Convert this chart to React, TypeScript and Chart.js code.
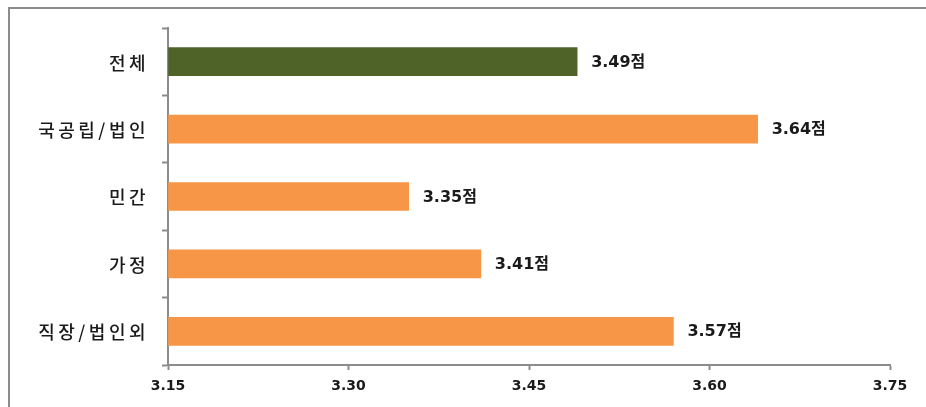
import React, { useEffect, useRef } from 'react';
import { Chart, registerables, ChartConfiguration, Plugin } from 'chart.js';

Chart.register(...registerables);

const categories = ['전체', '국공립/법인', '민간', '가정', '직장/법인외'];
const scores = [3.49, 3.64, 3.35, 3.41, 3.57];
const barColors = ['#4F6228', '#F79646', '#F79646', '#F79646', '#F79646'];
const xTicks = [3.15, 3.3, 3.45, 3.6, 3.75];

// outer frame of the chart box (only its top and left edges are in view)
const frame: Plugin<'bar'> = {
  id: 'frame',
  beforeDraw(chart) {
    const ctx = chart.ctx;
    ctx.save();
    ctx.strokeStyle = '#8c8c8c';
    ctx.lineWidth = 2;
    ctx.beginPath();
    ctx.moveTo(9, chart.height);
    ctx.lineTo(9, 8);
    ctx.lineTo(chart.width, 8);
    ctx.stroke();
    ctx.restore();
  }
};

// draws "3.49점" style labels just past the end of each bar,
// and the category names (spaced out like the original)
const valueLabels: Plugin<'bar'> = {
  id: 'valueLabels',
  afterDatasetsDraw(chart) {
    const ctx = chart.ctx;
    const meta = chart.getDatasetMeta(0);
    ctx.save();
    ctx.font = 'bold 16px "DejaVu Sans", "Noto Sans CJK KR"';
    ctx.fillStyle = '#1a1a1a';
    ctx.textAlign = 'left';
    ctx.textBaseline = 'middle';
    meta.data.forEach((bar, i) => {
      ctx.fillText(scores[i].toFixed(2) + '점', bar.x + 14, bar.y + 1);
    });

    const yScale = chart.scales.y;
    ctx.font = '500 18px "Noto Sans CJK KR"';
    (ctx as any).letterSpacing = '3.5px';
    ctx.textAlign = 'right';
    categories.forEach((label, i) => {
      const y = yScale.getPixelForTick(i);
      ctx.fillText(label, yScale.right - 19, y + 1);
    });
    ctx.restore();
  }
};

export default function App() {
  const canvasRef = useRef<HTMLCanvasElement>(null);
  const chartRef = useRef<Chart | null>(null);

  useEffect(() => {
    document.body.style.margin = '0';
    document.documentElement.style.overflow = 'hidden';
    if (!canvasRef.current) return;
    if (chartRef.current) chartRef.current.destroy();

    const config: ChartConfiguration<'bar'> = {
      type: 'bar',
      data: {
        labels: categories,
        datasets: [{
          data: scores,
          backgroundColor: barColors,
          borderWidth: 0,
          barThickness: 28,
          base: 3.15
        }]
      },
      options: {
        indexAxis: 'y',
        animation: false,
        responsive: false,
        maintainAspectRatio: false,
        layout: { padding: { left: 0, top: 28, right: 36, bottom: 0 } },
        plugins: {
          legend: { display: false },
          tooltip: { enabled: false }
        },
        scales: {
          x: {
            min: 3.15,
            max: 3.75,
            afterBuildTicks: (axis) => {
              axis.ticks = xTicks.map(v => ({ value: v }));
            },
            afterFit: (axis) => { axis.height = 42; },
            grid: {
              drawOnChartArea: false,
              tickLength: 5,
              tickColor: '#8c8c8c',
              tickWidth: 2
            },
            border: { color: '#8c8c8c', width: 2 },
            ticks: {
              padding: 8,
              color: '#1a1a1a',
              font: { family: '"DejaVu Sans"', size: 14, weight: 'bold' },
              callback: (value) => Number(value).toFixed(2)
            }
          },
          y: {
            afterFit: (axis) => { axis.width = 168; },
            grid: {
              drawOnChartArea: false,
              offset: true,
              tickLength: 6,
              tickColor: '#8c8c8c',
              tickWidth: 2
            },
            border: { color: '#8c8c8c', width: 2 },
            ticks: { display: false }
          }
        }
      },
      plugins: [frame, valueLabels]
    };

    chartRef.current = new Chart(canvasRef.current, config);

    return () => {
      if (chartRef.current) {
        chartRef.current.destroy();
        chartRef.current = null;
      }
    };
  }, []);

  return (
    <div style={{ width: 926, height: 407, background: '#fff' }}>
      <canvas ref={canvasRef} width={926} height={407} style={{ display: 'block' }} />
    </div>
  );
}
